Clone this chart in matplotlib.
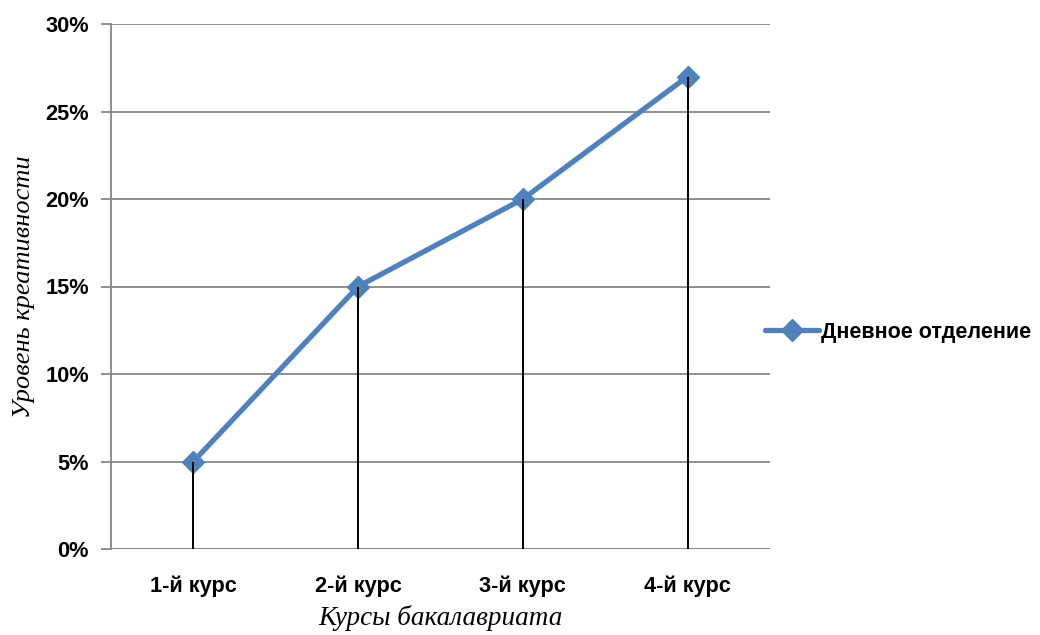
import matplotlib.pyplot as plt
import matplotlib.ticker as mticker

courses = ["1-й курс", "2-й курс", "3-й курс", "4-й курс"]
day_dept = [5, 15, 20, 27]
series_name = "Дневное отделение"

fig = plt.figure(figsize=(10.4, 6.35), dpi=100)
ax = fig.add_axes([111 / 1040, 1 - 549 / 635, 659 / 1040, 525 / 635])

x = list(range(len(courses)))
blue = "#4F81BD"
grid_c = "#868686"

ax.plot(x, day_dept, color=blue, lw=3.8, marker="D", ms=11,
        label=series_name, zorder=3, solid_capstyle="round")
ax.vlines(x, 0, day_dept, color="black", lw=1.4, zorder=4)

ax.set_xlim(-0.5, 3.5)
ax.set_ylim(0, 30)
ax.set_yticks(range(0, 31, 5))
ax.yaxis.set_major_formatter(mticker.FuncFormatter(lambda v, p: f"{v:.0f}%"))
ax.set_xticks(x)
ax.set_xticklabels(courses)
ax.grid(axis="y", color=grid_c, lw=1.3, zorder=1)

for s in ["top", "right", "bottom"]:
    ax.spines[s].set_visible(False)
ax.spines["left"].set_color(grid_c)
ax.spines["left"].set_linewidth(1.3)
ax.axhline(0, color=grid_c, lw=1.3, zorder=2)
ax.tick_params(axis="y", length=7, color=grid_c, width=1.3, pad=9)
ax.tick_params(axis="x", length=0, pad=19)

for lab in ax.get_xticklabels() + ax.get_yticklabels():
    lab.set_family("Liberation Sans")
    lab.set_fontweight("bold")
    lab.set_fontsize(15.7)

ax.set_xlabel("Курсы бакалавриата", family="Liberation Serif", style="italic",
              fontsize=19.5, labelpad=6)
ax.set_ylabel("Уровень креативности", family="Liberation Serif", style="italic",
              fontsize=19, labelpad=7)

leg = fig.legend(loc="center left", bbox_to_anchor=(759 / 1040, 1 - 332 / 635),
                 frameon=False, handlelength=2.5, handletextpad=0.1,
                 borderaxespad=0, borderpad=0.3,
                 prop={"family": "Liberation Sans", "weight": "bold", "size": 15.5})

fig.savefig("out.png", dpi=100)
